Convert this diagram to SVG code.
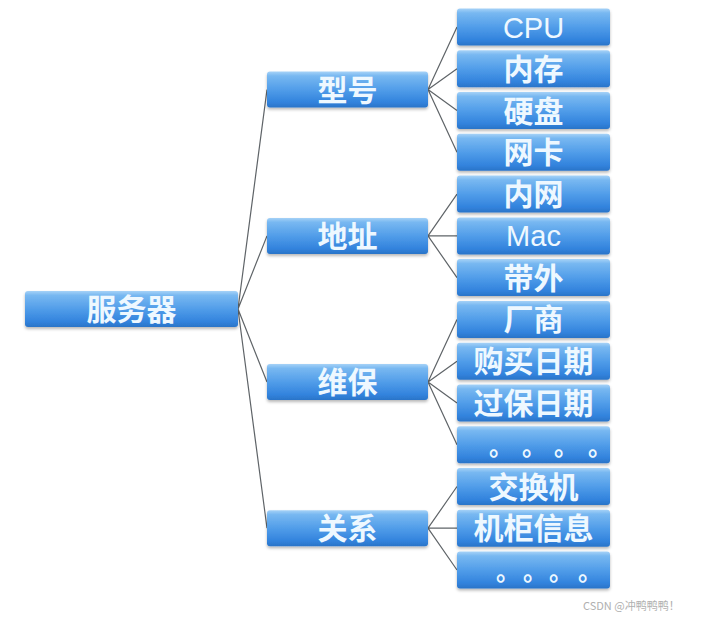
<svg xmlns="http://www.w3.org/2000/svg" width="708" height="621" viewBox="0 0 708 621">
<defs>
<linearGradient id="g" x1="0" y1="0" x2="0" y2="1">
<stop offset="0" stop-color="#a6d2f7"/>
<stop offset="0.12" stop-color="#78b8f1"/>
<stop offset="0.5" stop-color="#519de9"/>
<stop offset="0.85" stop-color="#3283dd"/>
<stop offset="1" stop-color="#2a74c8"/>
</linearGradient>
<filter id="sh" x="-10%" y="-30%" width="120%" height="170%">
<feDropShadow dx="0" dy="2" stdDeviation="1.6" flood-color="#000" flood-opacity="0.28"/>
</filter>
</defs>
<style>
.b{fill:url(#g);filter:url(#sh)}
.t{font-family:"Noto Sans CJK SC","Liberation Sans",sans-serif;font-size:30px;font-weight:bold;fill:#eef8ff;text-anchor:middle}
.e{font-family:"Liberation Sans",sans-serif;font-size:29px;font-weight:normal;fill:#eef8ff;text-anchor:middle}
.d{font-family:"Noto Sans CJK SC",sans-serif;font-size:24px;font-weight:bold;fill:#eef8ff}
.c{fill:none;stroke:#5f6468;stroke-width:1.2}
</style>
<rect width="708" height="621" fill="#ffffff"/>
<g id="connectors">
<path class="c" d="M238 309L267 89.6M238 309L267 235.9M238 309L267 382M238 309L267 528.2"/>
<path class="c" d="M428 89.6L457 27M428 89.6L457 68.8M428 89.6L457 110.5M428 89.6L457 152.3"/>
<path class="c" d="M428 235.9L457 194.1M428 235.9L457 235.9M428 235.9L457 277.6"/>
<path class="c" d="M428 382L457 319.4M428 382L457 361.2M428 382L457 403M428 382L457 444.7"/>
<path class="c" d="M428 528.2L457 486.5M428 528.2L457 528.2M428 528.2L457 570"/>
</g>
<g id="root"><rect class="b" x="25" y="291" width="213" height="36" rx="3"/><text class="t" x="131.5" y="320">服务器</text></g>
<g id="m1"><rect class="b" x="267" y="71.6" width="161" height="36" rx="3"/><text class="t" x="347.5" y="100.6">型号</text></g>
<g id="m2"><rect class="b" x="267" y="217.9" width="161" height="36" rx="3"/><text class="t" x="347.5" y="246.9">地址</text></g>
<g id="m3"><rect class="b" x="267" y="364" width="161" height="36" rx="3"/><text class="t" x="347.5" y="393">维保</text></g>
<g id="m4"><rect class="b" x="267" y="510.2" width="161" height="36" rx="3"/><text class="t" x="347.5" y="539.2">关系</text></g>
<g id="l0"><rect class="b" x="457" y="8.5" width="153" height="37" rx="3"/><text class="e" x="533.5" y="37.5">CPU</text></g>
<g id="l1"><rect class="b" x="457" y="50.3" width="153" height="37" rx="3"/><text class="t" x="533.5" y="79.8">内存</text></g>
<g id="l2"><rect class="b" x="457" y="92" width="153" height="37" rx="3"/><text class="t" x="533.5" y="121.5">硬盘</text></g>
<g id="l3"><rect class="b" x="457" y="133.8" width="153" height="37" rx="3"/><text class="t" x="533.5" y="163.3">网卡</text></g>
<g id="l4"><rect class="b" x="457" y="175.6" width="153" height="37" rx="3"/><text class="t" x="533.5" y="205.1">内网</text></g>
<g id="l5"><rect class="b" x="457" y="217.4" width="153" height="37" rx="3"/><text class="e" x="533.5" y="246.4">Mac</text></g>
<g id="l6"><rect class="b" x="457" y="259.1" width="153" height="37" rx="3"/><text class="t" x="533.5" y="288.6">带外</text></g>
<g id="l7"><rect class="b" x="457" y="300.9" width="153" height="37" rx="3"/><text class="t" x="533.5" y="330.4">厂商</text></g>
<g id="l8"><rect class="b" x="457" y="342.7" width="153" height="37" rx="3"/><text class="t" x="533.5" y="372.2">购买日期</text></g>
<g id="l9"><rect class="b" x="457" y="384.5" width="153" height="37" rx="3"/><text class="t" x="533.5" y="414">过保日期</text></g>
<g id="l10"><rect class="b" x="457" y="426.2" width="153" height="37" rx="3"/><text class="d" x="489 522 554 588" y="454.5">。。。。</text></g>
<g id="l11"><rect class="b" x="457" y="468" width="153" height="37" rx="3"/><text class="t" x="533.5" y="497.5">交换机</text></g>
<g id="l12"><rect class="b" x="457" y="509.7" width="153" height="37" rx="3"/><text class="t" x="533.5" y="539.2">机柜信息</text></g>
<g id="l13"><rect class="b" x="457" y="551.5" width="153" height="37" rx="3"/><text class="d" x="496 523 549 578" y="579.5">。。。。</text></g>
<text x="583" y="610" font-family="Noto Sans CJK SC,Liberation Sans,sans-serif" font-size="11" fill="#b0b0b0">CSDN @冲鸭鸭鸭！</text>
</svg>
